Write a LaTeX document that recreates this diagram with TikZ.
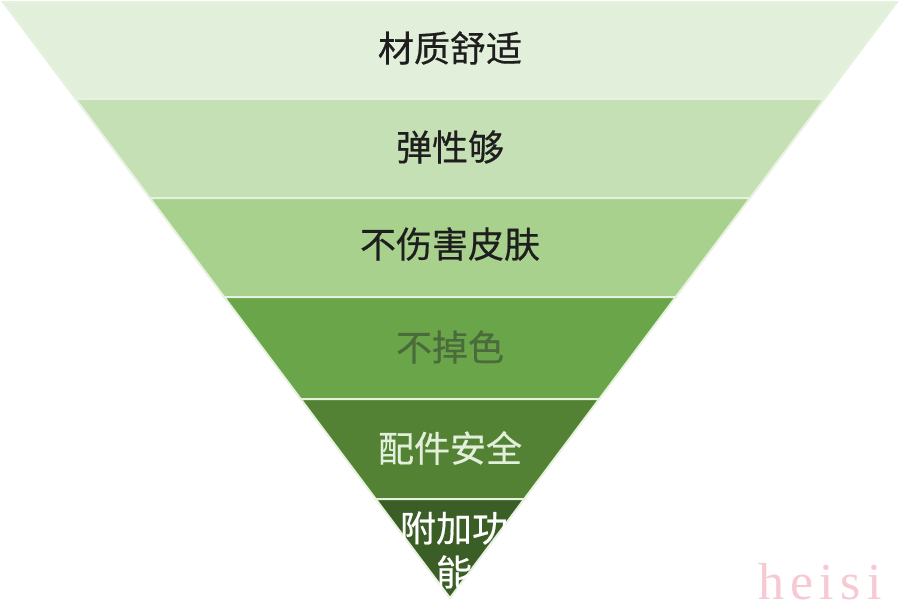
\documentclass[tikz,border=0pt]{standalone}
\usepackage{fontspec}
\newfontfamily\cjk[FakeBold=0.5]{Noto Sans CJK SC}
\newfontfamily\wmfont[LetterSpace=12]{Liberation Serif}
\definecolor{bandA}{HTML}{E2EFDA}
\definecolor{bandB}{HTML}{C5E0B4}
\definecolor{bandC}{HTML}{A9D18E}
\definecolor{bandD}{HTML}{6AA549}
\definecolor{bandE}{HTML}{548235}
\definecolor{bandF}{HTML}{3B5E26}
\definecolor{sepline}{HTML}{E6F2DE}
\definecolor{txtdark}{HTML}{1E1E1E}
\definecolor{txtgrey}{HTML}{4A6B3C}
\definecolor{txtlight}{HTML}{E2EFDA}
\definecolor{wmpink}{HTML}{F7C9D2}
\tikzset{
  band/.style={draw=sepline, line width=2pt, line join=miter},
  label/.style={font=\cjk\fontsize{36}{44}\selectfont, inner sep=0pt, align=center},
}
\begin{document}
\begin{tikzpicture}[x=1pt,y=-1pt]
\useasboundingbox (0,0) rectangle (900,614);
\fill[white] (0,0) rectangle (900,614);
\filldraw[band, fill=bandA] (3,2) -- (897,2) -- (824.25,99) -- (75.75,99) -- cycle;
\filldraw[band, fill=bandB] (75.75,99) -- (824.25,99) -- (750,198) -- (150,198) -- cycle;
\filldraw[band, fill=bandC] (150,198) -- (750,198) -- (675.75,297) -- (224.25,297) -- cycle;
\filldraw[band, fill=bandD] (224.25,297) -- (675.75,297) -- (599.25,399) -- (300.75,399) -- cycle;
\filldraw[band, fill=bandE] (300.75,399) -- (599.25,399) -- (524.25,499) -- (375.75,499) -- cycle;
\filldraw[band, fill=bandF] (375.75,499) -- (524.25,499) -- (450,598) -- cycle;
\node[label, text=txtdark] (t1) at (450,48) {材质舒适};
\node[label, text=txtdark] (t2) at (450,147) {弹性够};
\node[label, text=txtdark] (t3) at (450,244) {不伤害皮肤};
\node[label, text=txtgrey] (t4) at (450,347) {不掉色};
\node[label, text=txtlight] (t5) at (450,448) {配件安全};
\node[label, text=white] (t6) at (454,550) {附加功\\能};
\node[font=\wmfont\fontsize{52}{56}\selectfont, text=wmpink, inner sep=0pt] (wm) at (820,582) {heisi};
\end{tikzpicture}
\end{document}
